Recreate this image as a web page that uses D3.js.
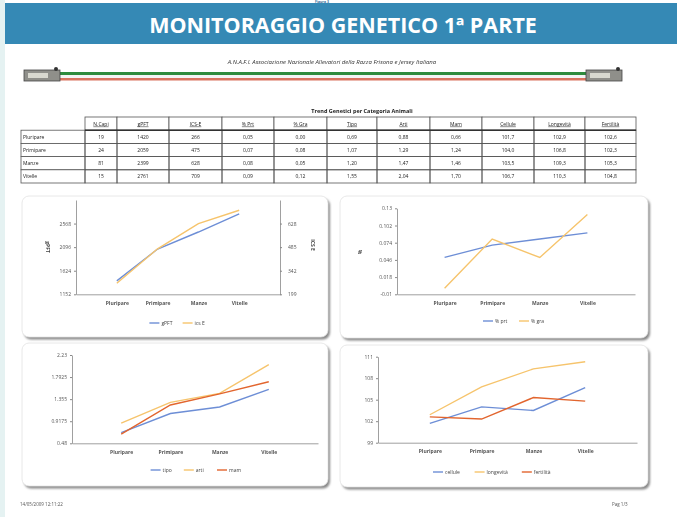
<!DOCTYPE html>
<html>
<head>
<meta charset="utf-8">
<script src="https://cdn.jsdelivr.net/npm/d3@7"></script>
<style>
  html, body { margin: 0; padding: 0; background: #fff; }
  svg { display: block; }
  text { font-family: "Open Sans", "DejaVu Sans", sans-serif; }
</style>
</head>
<body>
<svg id="slide" width="677" height="517"></svg>
<script>
const categorie = ["Pluripare", "Primipare", "Manze", "Vitelle"];
const nCapi = [19, 24, 81, 15];
const gPFT = [1420, 2059, 2399, 2761];
const icsE = [266, 475, 628, 709];
const percPrt = [0.05, 0.07, 0.08, 0.09];
const percGra = [0.00, 0.08, 0.05, 0.12];
const tipo = [0.69, 1.07, 1.20, 1.55];
const arti = [0.88, 1.29, 1.47, 2.04];
const mam = [0.66, 1.24, 1.46, 1.70];
const cellule = [101.7, 104.0, 103.5, 106.7];
const longevita = [102.9, 106.8, 109.3, 110.3];
const fertilita = [102.6, 102.3, 105.3, 104.8];

const intestazioni = ["N.Capi", "gPFT", "ICS-E", "% Prt", "% Gra", "Tipo", "Arti", "Mam", "Cellule", "Longevità", "Fertilità"];
const tickPFT = [1152, 1624, 2096, 2568];
const tickICS = [199, 342, 485, 628];
const tickPerc = [-0.01, 0.018, 0.046, 0.074, 0.102, 0.13];
const tickMorf = [0.48, 0.9175, 1.355, 1.7925, 2.23];
const tickFunz = [99, 102, 105, 108, 111];

const blu = "#6d8ed6", giallo = "#f6c46c", rosso = "#e2652e";
const virgola = (v, dec) => v.toFixed(dec).replace(".", ",");

const svg = d3.select("#slide");

// sfondo pagina
svg.append("rect").attr("width", 677).attr("height", 517).attr("fill", "#fff");
svg.append("rect").attr("width", 5).attr("height", 517).attr("fill", "#e5f2f2");

// titolo sopra la fascia (quasi nascosto)
svg.append("text").attr("x", 322).attr("y", 3).attr("text-anchor", "middle")
  .attr("font-size", 3.5).attr("font-weight", "bold").attr("fill", "#2f6f99").text("Figura 3");

// fascia titolo
svg.append("rect").attr("x", 5).attr("y", 3).attr("width", 672).attr("height", 41).attr("fill", "#3589b5");
svg.append("text").attr("x", 343).attr("y", 32.5).attr("text-anchor", "middle")
  .attr("font-size", 21.5).attr("font-weight", "bold").attr("fill", "#fff")
  .text("MONITORAGGIO GENETICO 1ª PARTE");

const doc = svg.append("g");
const defs = svg.append("defs");
defs.append("filter").attr("id", "sfoca").append("feGaussianBlur").attr("stdDeviation", 0.35);
const ombra = defs.append("filter").attr("id", "ombra").attr("x", "-5%").attr("y", "-5%").attr("width", "115%").attr("height", "115%");
ombra.append("feGaussianBlur").attr("stdDeviation", 1.2);
doc.attr("filter", "url(#sfoca)");

// intestazione del documento
doc.append("text").attr("x", 332).attr("y", 64).attr("text-anchor", "middle")
  .attr("font-size", 6).attr("font-style", "italic").attr("fill", "#333")
  .text("A.N.A.F.I. Associazione Nazionale Allevatori della Razza Frisona e Jersey Italiana");
doc.append("rect").attr("x", 60).attr("y", 72).attr("width", 526).attr("height", 3).attr("fill", "#2e8b3e");
doc.append("rect").attr("x", 60).attr("y", 75).attr("width", 526).attr("height", 3).attr("fill", "#f4f4f4");
doc.append("rect").attr("x", 60).attr("y", 78).attr("width", 526).attr("height", 2.5).attr("fill", "#d9735f");
[[24, 70], [586, 70]].forEach(([x, y]) => {
  doc.append("rect").attr("x", x).attr("y", y).attr("width", 36).attr("height", 11).attr("fill", "#8f8f8a").attr("stroke", "#444").attr("stroke-width", 0.8);
  doc.append("rect").attr("x", x + 4).attr("y", y + 3).attr("width", 20).attr("height", 5).attr("fill", "#d8d8cf");
  doc.append("circle").attr("cx", x + 32).attr("cy", y - 1).attr("r", 2).attr("fill", "#333");
});

// tabella
const tab = doc.append("g");
tab.append("text").attr("x", 362).attr("y", 113).attr("text-anchor", "middle")
  .attr("font-size", 5.5).attr("font-weight", "bold").attr("fill", "#222")
  .text("Trend Genetici per Categoria Animali");
const colX = [85, 117, 169, 222, 274, 327, 377, 430, 482, 534, 585, 636];
const rigaY = d3.scaleBand().domain(["h", ...categorie]).range([117, 183]);
const colonne = [nCapi, gPFT, icsE, percPrt, percGra, tipo, arti, mam, cellule, longevita, fertilita];
const decimali = [0, 0, 0, 2, 2, 2, 2, 2, 1, 1, 1];
intestazioni.forEach((h, i) => {
  tab.append("rect").attr("x", colX[i]).attr("y", rigaY("h")).attr("width", colX[i + 1] - colX[i]).attr("height", rigaY.bandwidth())
    .attr("fill", "#fff").attr("stroke", "#555").attr("stroke-width", 0.8);
  tab.append("text").attr("x", (colX[i] + colX[i + 1]) / 2).attr("y", rigaY("h") + rigaY.bandwidth() / 2 + 2)
    .attr("text-anchor", "middle").attr("font-size", 5).attr("fill", "#222").attr("text-decoration", "underline").text(h);
});
categorie.forEach((c, r) => {
  tab.append("rect").attr("x", 21).attr("y", rigaY(c)).attr("width", 64).attr("height", rigaY.bandwidth())
    .attr("fill", "#fff").attr("stroke", "#555").attr("stroke-width", 0.8);
  tab.append("text").attr("x", 23).attr("y", rigaY(c) + rigaY.bandwidth() / 2 + 2)
    .attr("font-size", 5).attr("fill", "#222").text(c);
  colonne.forEach((col, i) => {
    tab.append("rect").attr("x", colX[i]).attr("y", rigaY(c)).attr("width", colX[i + 1] - colX[i]).attr("height", rigaY.bandwidth())
      .attr("fill", "none").attr("stroke", "#555").attr("stroke-width", 0.8);
    tab.append("text").attr("x", (colX[i] + colX[i + 1]) / 2).attr("y", rigaY(c) + rigaY.bandwidth() / 2 + 2)
      .attr("text-anchor", "middle").attr("font-size", 5).attr("fill", "#222").text(virgola(col[r], decimali[i]));
  });
});
tab.append("line").attr("x1", 85).attr("x2", 636).attr("y1", rigaY("h") + rigaY.bandwidth()).attr("y2", rigaY("h") + rigaY.bandwidth())
  .attr("stroke", "#333").attr("stroke-width", 1.4);

// riquadro con ombra
function riquadro(b) {
  doc.append("rect").attr("x", b.x + 2).attr("y", b.y + 2.5).attr("width", b.w).attr("height", b.h).attr("rx", 7)
    .attr("fill", "#8a8a8a").attr("filter", "url(#ombra)");
  doc.append("rect").attr("x", b.x).attr("y", b.y).attr("width", b.w).attr("height", b.h).attr("rx", 7)
    .attr("fill", "#fff").attr("stroke", "#e2e2e2").attr("stroke-width", 0.8);
}

function grafico(cfg) {
  riquadro(cfg.box);
  const g = doc.append("g");
  const x = d3.scalePoint().domain(categorie).range([cfg.l, cfg.r]).padding(1);
  const y = d3.scaleLinear().domain(cfg.dom).range([cfg.b, cfg.t]);
  const y2 = cfg.dom2 ? d3.scaleLinear().domain(cfg.dom2).range([cfg.b, cfg.t]) : null;
  const grezzo = d => String(d);

  g.append("g").attr("transform", `translate(${cfg.l},0)`)
    .call(d3.axisLeft(y).tickValues(cfg.ticks).tickSize(2).tickSizeOuter(0).tickFormat(grezzo));
  if (y2) {
    g.append("g").attr("transform", `translate(${cfg.r},0)`)
      .call(d3.axisRight(y2).tickValues(cfg.ticks2).tickSize(2).tickSizeOuter(0).tickPadding(6).tickFormat(grezzo));
  }
  const ax = g.append("g").attr("transform", `translate(0,${cfg.b})`)
    .call(d3.axisBottom(x).tickSize(0).tickPadding(7));
  ax.selectAll("text").attr("font-weight", "bold");
  g.selectAll(".domain").attr("stroke", "#888").attr("stroke-width", 0.8);
  g.selectAll(".tick line").attr("stroke", "#888");
  g.selectAll(".tick text").attr("font-size", 5).attr("fill", "#555").attr("font-family", "'Open Sans', sans-serif");

  const linea = sc => d3.line().x((d, i) => x(categorie[i])).y(d => sc(d));
  cfg.serie.forEach(s => {
    g.append("path").attr("d", linea(s.asse2 ? y2 : y)(s.valori))
      .attr("fill", "none").attr("stroke", s.colore).attr("stroke-width", 1.4);
  });

  (cfg.titoli || []).forEach(t => {
    g.append("text").attr("transform", `translate(${t.x},${t.y}) rotate(90)`).attr("text-anchor", "middle")
      .attr("font-size", 5).attr("font-weight", "bold").attr("fill", "#444").text(t.testo);
  });

  // legenda
  const leg = g.append("g");
  let px = 0;
  cfg.serie.forEach(s => {
    const it = leg.append("g").attr("transform", `translate(${px},0)`);
    it.append("line").attr("x1", 0).attr("x2", 10).attr("stroke", s.colore).attr("stroke-width", 1.4);
    it.append("text").attr("x", 12).attr("y", 1.8).attr("font-size", 5).attr("fill", "#444").text(s.nome);
    px += 14 + s.nome.length * 2.8 + 8;
  });
  leg.attr("transform", `translate(${cfg.legX - (px - 8) / 2},${cfg.legY})`);
}

grafico({
  box: { x: 22, y: 196, w: 306, h: 141 }, l: 76, r: 280, t: 200, b: 294.3,
  dom: [1152, 3040], ticks: tickPFT, dom2: [199, 771], ticks2: tickICS,
  titoli: [{ x: 46, y: 247, testo: "gPFT" }, { x: 311, y: 245, testo: "ICS E" }],
  serie: [{ nome: "gPFT", valori: gPFT, colore: blu }, { nome: "ics E", valori: icsE, colore: giallo, asse2: true }],
  legX: 180, legY: 323
});

grafico({
  box: { x: 340, y: 196, w: 308, h: 142 }, l: 397, r: 635, t: 208.3, b: 294.3,
  dom: [-0.01, 0.13], ticks: tickPerc,
  titoli: [{ x: 358, y: 252, testo: "%" }],
  serie: [{ nome: "% prt", valori: percPrt, colore: blu }, { nome: "% gra", valori: percGra, colore: giallo }],
  legX: 515, legY: 321
});

grafico({
  box: { x: 22, y: 343, w: 306, h: 143 }, l: 72, r: 318, t: 355, b: 443.3,
  dom: [0.48, 2.23], ticks: tickMorf,
  serie: [{ nome: "tipo", valori: tipo, colore: blu }, { nome: "arti", valori: arti, colore: giallo }, { nome: "mam", valori: mam, colore: rosso }],
  legX: 195, legY: 470
});

grafico({
  box: { x: 340, y: 345, w: 308, h: 142 }, l: 378, r: 637, t: 356.7, b: 442.7,
  dom: [99, 111], ticks: tickFunz,
  serie: [{ nome: "cellule", valori: cellule, colore: blu }, { nome: "longevità", valori: longevita, colore: giallo }, { nome: "fertilità", valori: fertilita, colore: rosso }],
  legX: 497, legY: 472
});

// piè di pagina
doc.append("text").attr("x", 20).attr("y", 506).attr("font-size", 4.5).attr("fill", "#555").text("14/05/2009  12:11:22");
doc.append("text").attr("x", 612).attr("y", 506).attr("font-size", 4.5).attr("fill", "#555").text("Pag 1/3");
</script>
</body>
</html>
